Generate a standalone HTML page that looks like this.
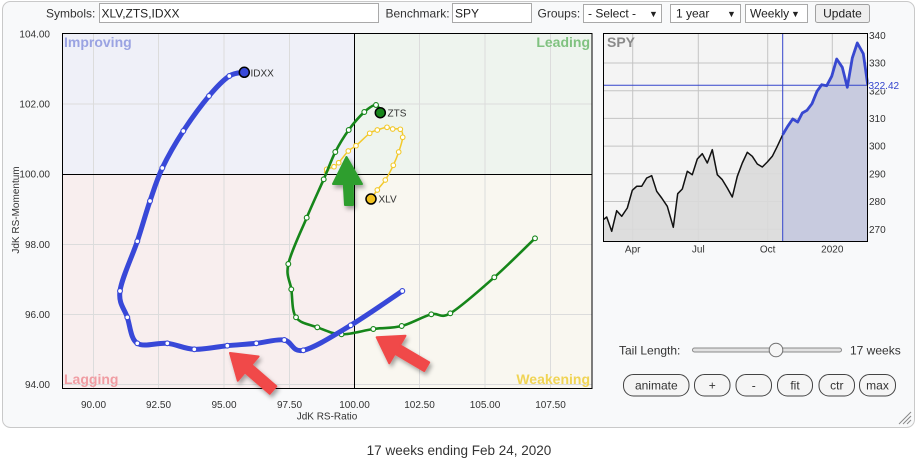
<!DOCTYPE html>
<html>
<head>
<meta charset="utf-8">
<style>
  html,body{margin:0;padding:0;background:#fff;}
  body{width:918px;height:464px;overflow:hidden;}
  svg{display:block;font-family:"Liberation Sans",Arial,sans-serif;}
</style>
</head>
<body>
<svg width="918" height="464" viewBox="0 0 918 464" xmlns="http://www.w3.org/2000/svg">
  <defs>
    <filter id="sh" x="-30%" y="-30%" width="160%" height="160%">
      <feDropShadow dx="2" dy="3" stdDeviation="2" flood-color="#000" flood-opacity="0.35"/>
    </filter>
  </defs>

  <!-- panel -->
  <rect x="2.5" y="1.5" width="912" height="426" rx="8" fill="#f8f9fa" stroke="#c9c9c9"/>

  <!-- toolbar -->
  <g font-size="12" fill="#333">
    <text x="46" y="17.5">Symbols:</text>
    <rect x="99.5" y="3.5" width="279" height="19" fill="#fff" stroke="#a9a9a9"/>
    <text x="101.5" y="17.5" fill="#222">XLV,ZTS,IDXX</text>
    <text x="385.5" y="17.5">Benchmark:</text>
    <rect x="452.5" y="3.5" width="79" height="19" fill="#fff" stroke="#a9a9a9"/>
    <text x="455" y="17.5" fill="#222">SPY</text>
    <text x="537.5" y="17.5">Groups:</text>
    <rect x="583.5" y="4.5" width="78" height="18" fill="#fff" stroke="#a9a9a9"/>
    <text x="588" y="17.5" fill="#222">- Select -</text>
    <text x="649" y="17" font-size="9" fill="#222">▼</text>
    <rect x="670.5" y="4.5" width="70" height="18" fill="#fff" stroke="#a9a9a9"/>
    <text x="676" y="17.5" fill="#222">1 year</text>
    <text x="727" y="17" font-size="9" fill="#222">▼</text>
    <rect x="745.5" y="4.5" width="62" height="18" fill="#fff" stroke="#a9a9a9"/>
    <text x="750" y="17.5" fill="#222">Weekly</text>
    <text x="791" y="17" font-size="9" fill="#222">▼</text>
    <rect x="815.5" y="4.5" width="54" height="18" rx="2" fill="#efefef" stroke="#a0a0a0"/>
    <text x="842.5" y="17.5" text-anchor="middle" fill="#222">Update</text>
  </g>

  <!-- RRG quadrants -->
  <rect x="62" y="33" width="292.5" height="141.5" fill="#eff0f8"/>
  <rect x="354.5" y="33" width="237.5" height="141.5" fill="#eef4ee"/>
  <rect x="62" y="174.5" width="292.5" height="214" fill="#f8eeee"/>
  <rect x="354.5" y="174.5" width="237.5" height="214" fill="#f9f7f0"/>

  <!-- grid -->
  <g stroke="#dcdcdc" stroke-width="1">
    <line x1="93.5" y1="33" x2="93.5" y2="388"/>
    <line x1="158.5" y1="33" x2="158.5" y2="388"/>
    <line x1="224" y1="33" x2="224" y2="388"/>
    <line x1="289.5" y1="33" x2="289.5" y2="388"/>
    <line x1="419.5" y1="33" x2="419.5" y2="388"/>
    <line x1="485" y1="33" x2="485" y2="388"/>
    <line x1="550.5" y1="33" x2="550.5" y2="388"/>
    <line x1="62" y1="104" x2="592" y2="104"/>
    <line x1="62" y1="244.5" x2="592" y2="244.5"/>
    <line x1="62" y1="314.5" x2="592" y2="314.5"/>
    <line x1="62" y1="384.5" x2="592" y2="384.5"/>
  </g>
  <line x1="354.5" y1="33" x2="354.5" y2="388" stroke="#000" stroke-width="1"/>
  <line x1="62" y1="174.5" x2="592" y2="174.5" stroke="#000" stroke-width="1"/>
  <rect x="62.5" y="33.5" width="529.5" height="355" fill="none" stroke="#000" stroke-width="1"/>

  <!-- quadrant labels -->
  <g font-size="14" font-weight="bold">
    <text x="64" y="47" fill="#9aa3e2">Improving</text>
    <text x="590" y="47" text-anchor="end" fill="#80c280">Leading</text>
    <text x="64" y="384" fill="#f09ca2">Lagging</text>
    <text x="590" y="384" text-anchor="end" fill="#f0d455">Weakening</text>
  </g>

  <!-- y tick labels -->
  <g font-size="10" fill="#333" text-anchor="end">
    <text x="50" y="37.5">104.00</text>
    <text x="50" y="107.5">102.00</text>
    <text x="50" y="177.5">100.00</text>
    <text x="50" y="248">98.00</text>
    <text x="50" y="318">96.00</text>
    <text x="50" y="388">94.00</text>
  </g>
  <text transform="translate(19,210) rotate(-90)" font-size="10" fill="#333" text-anchor="middle">JdK RS-Momentum</text>
  <!-- x tick labels -->
  <g font-size="10" fill="#333" text-anchor="middle">
    <text x="93.5" y="408">90.00</text>
    <text x="158.5" y="408">92.50</text>
    <text x="224" y="408">95.00</text>
    <text x="289.5" y="408">97.50</text>
    <text x="354.5" y="408">100.00</text>
    <text x="419.5" y="408">102.50</text>
    <text x="485" y="408">105.00</text>
    <text x="550.5" y="408">107.50</text>
    <text x="327" y="419.5">JdK RS-Ratio</text>
  </g>

  <!-- XLV tail -->
  <path id="xlv" d="M324.5,172.5 L326.7,169.3 L334,166.7 L338.7,162.7 L348.3,151 L356,145.7 L369.7,133.3 L377.3,130 L387,127.3 L392.7,129 L400.3,129.3 L402.7,137.3 L398.7,152 L393.3,165.3 L385.3,180 L377.3,190 L371,199" fill="none" stroke="#f2c92c" stroke-width="1.5" stroke-linejoin="round" stroke-linecap="round"/>
  <g fill="#fff" stroke="#f2c92c" stroke-width="1.1">
    <circle cx="326.7" cy="169.3" r="2.3"/><circle cx="334" cy="166.7" r="2.3"/><circle cx="338.7" cy="162.7" r="2.3"/>
    <circle cx="348.3" cy="151" r="2.3"/><circle cx="356" cy="145.7" r="2.3"/><circle cx="369.7" cy="133.3" r="2.3"/>
    <circle cx="377.3" cy="130" r="2.3"/><circle cx="387" cy="127.3" r="2.3"/><circle cx="392.7" cy="129" r="2.3"/>
    <circle cx="400.3" cy="129.3" r="2.3"/><circle cx="402.7" cy="137.3" r="2.3"/><circle cx="398.7" cy="152" r="2.3"/>
    <circle cx="393.3" cy="165.3" r="2.3"/><circle cx="385.3" cy="180" r="2.3"/><circle cx="377.3" cy="190" r="2.3"/>
  </g>

  <!-- ZTS tail -->
  <path id="zts" d="M535,238.3 L494.3,277.3 L450.3,313.3 L431.3,314.3 L401.7,326 L373.3,329 L341.5,334.3 L317.3,327.3 L296,317.3 L291.3,289.3 L288.3,264 L306.7,217.7 L323.7,179.3 L335.3,152 L348.7,130 L364.3,112 L376,105 L380.3,112.7" fill="none" stroke="#16861a" stroke-width="2.6" stroke-linejoin="round" stroke-linecap="round"/>
  <g fill="#fff" stroke="#16861a" stroke-width="1.1">
    <circle cx="535" cy="238.3" r="2.4"/><circle cx="494.3" cy="277.3" r="2.4"/><circle cx="450.3" cy="313.3" r="2.4"/>
    <circle cx="431.3" cy="314.3" r="2.4"/><circle cx="401.7" cy="326" r="2.4"/><circle cx="373.3" cy="329" r="2.4"/>
    <circle cx="341.5" cy="334.3" r="2.4"/><circle cx="317.3" cy="327.3" r="2.4"/><circle cx="296" cy="317.3" r="2.4"/>
    <circle cx="291.3" cy="289.3" r="2.4"/><circle cx="288.3" cy="264" r="2.4"/><circle cx="306.7" cy="217.7" r="2.4"/>
    <circle cx="323.7" cy="179.3" r="2.4"/><circle cx="335.3" cy="152" r="2.4"/><circle cx="348.7" cy="130" r="2.4"/>
    <circle cx="364.3" cy="112" r="2.4"/><circle cx="376" cy="105" r="2.4"/>
  </g>

  <!-- IDXX tail -->
  <path id="idxx" d="M402.3,291 L350.7,325.3 L303.3,350.3 L284.3,340 L256.3,343.3 L227.3,345.7 L194.3,349.3 L167.3,343.3 L137.3,343.3 L127.3,317.3 L120,291 L137.3,241.3 L150,201 L162.3,168 L183.3,131 L209,96 L229.3,76 L244.3,72.3" fill="none" stroke="#3848d8" stroke-width="5" stroke-linejoin="round" stroke-linecap="round"/>
  <g fill="#fff" stroke="#3848d8" stroke-width="1.1">
    <circle cx="402.3" cy="291" r="2.4"/><circle cx="350.7" cy="325.3" r="2.4"/><circle cx="303.3" cy="350.3" r="2.4"/>
    <circle cx="284.3" cy="340" r="2.4"/><circle cx="256.3" cy="343.3" r="2.4"/><circle cx="227.3" cy="345.7" r="2.4"/>
    <circle cx="194.3" cy="349.3" r="2.4"/><circle cx="167.3" cy="343.3" r="2.4"/><circle cx="137.3" cy="343.3" r="2.4"/>
    <circle cx="127.3" cy="317.3" r="2.4"/><circle cx="120" cy="291" r="2.4"/><circle cx="137.3" cy="241.3" r="2.4"/>
    <circle cx="150" cy="201" r="2.4"/><circle cx="162.3" cy="168" r="2.4"/><circle cx="183.3" cy="131" r="2.4"/>
    <circle cx="209" cy="96" r="2.4"/><circle cx="229.3" cy="76" r="2.4"/>
  </g>

  <!-- heads -->
  <circle cx="244.3" cy="72.3" r="5" fill="#3848d8" stroke="#000" stroke-width="1.5"/>
  <circle cx="380.3" cy="112.7" r="5" fill="#16861a" stroke="#000" stroke-width="1.5"/>
  <circle cx="371" cy="199" r="5" fill="#f2c21f" stroke="#000" stroke-width="1.5"/>
  <g font-size="10" fill="#333">
    <text x="250.5" y="76.5">IDXX</text>
    <text x="387.5" y="116.5">ZTS</text>
    <text x="378.5" y="202.5">XLV</text>
  </g>

  <!-- arrows -->
  <g filter="url(#sh)" stroke-linejoin="round" stroke-width="2">
    <polygon points="346.5,157 362,184 352.8,184 353,205 345,205 343.8,184 333,184" fill="#2e9e2e" stroke="#2e9e2e"/>
    <polygon points="230,353 258.6,356.5 251.5,364.8 276.3,386.2 269.7,393.8 244.9,372.4 237.8,380.7" fill="#f04848" stroke="#f04848"/>
    <polygon points="376.7,337.3 405.5,335.7 400,345.2 429.2,362.4 424.2,371 394.9,353.8 389.3,363.3" fill="#f04848" stroke="#f04848"/>
  </g>

  <!-- SPY chart -->
  <rect x="603.5" y="33.5" width="264" height="208" fill="#f4f4f4"/>
  <g stroke="#c4c4c4" stroke-width="1">
    <line x1="603.5" y1="63" x2="867.5" y2="63"/>
    <line x1="603.5" y1="90.7" x2="867.5" y2="90.7"/>
    <line x1="603.5" y1="118.4" x2="867.5" y2="118.4"/>
    <line x1="603.5" y1="146.1" x2="867.5" y2="146.1"/>
    <line x1="603.5" y1="173.8" x2="867.5" y2="173.8"/>
    <line x1="603.5" y1="201.5" x2="867.5" y2="201.5"/>
    <line x1="603.5" y1="229.2" x2="867.5" y2="229.2"/>
    <line x1="632.7" y1="33.5" x2="632.7" y2="241.5"/>
    <line x1="698.3" y1="33.5" x2="698.3" y2="241.5"/>
    <line x1="767.7" y1="33.5" x2="767.7" y2="241.5"/>
    <line x1="832.3" y1="33.5" x2="832.3" y2="241.5"/>
  </g>
  <polygon fill="#dadada" fill-opacity="0.9" points="603.5,241.5 603.3,219.7 606.7,217 611.7,231.3 616.7,210.7 621.7,216.3 627.3,208 632.3,190.3 636.7,186.3 641.7,186.3 646.7,178 651.7,175.7 656.7,191.3 661.7,198 667.3,206.3 673.3,227.3 677.7,193.7 682.3,189 687.3,171.3 692.3,174.7 697.3,159 702.3,153.7 707.3,163 712.3,149.7 717.3,174.7 722.3,179.7 727.3,188 732.3,197 737.3,176.3 742.3,163 747.3,152.3 752.3,156.3 757.3,164 762.3,167 767.3,162 772.3,156.3 777.3,146.3 782.7,134.7 782.7,241.5"/>
  <polygon fill="#c8cbdf" points="782.7,241.5 782.7,134.7 787.7,126.3 792.7,119 797.7,122 802.3,113 807,110.3 812,103.7 817,91.3 821.7,84.7 826.7,85.7 831.7,76.3 836.7,59 842.3,67.3 847.3,87.3 852.3,58 857.3,43 863.3,53.7 867.7,84.7 867.7,241.5"/>
  <polyline fill="none" stroke="#111" stroke-width="1.5" stroke-linejoin="round" points="603.3,219.7 606.7,217 611.7,231.3 616.7,210.7 621.7,216.3 627.3,208 632.3,190.3 636.7,186.3 641.7,186.3 646.7,178 651.7,175.7 656.7,191.3 661.7,198 667.3,206.3 673.3,227.3 677.7,193.7 682.3,189 687.3,171.3 692.3,174.7 697.3,159 702.3,153.7 707.3,163 712.3,149.7 717.3,174.7 722.3,179.7 727.3,188 732.3,197 737.3,176.3 742.3,163 747.3,152.3 752.3,156.3 757.3,164 762.3,167 767.3,162 772.3,156.3 777.3,146.3 782.7,134.7"/>
  <polyline fill="none" stroke="#3848d0" stroke-width="2.8" stroke-linejoin="round" points="782.7,134.7 787.7,126.3 792.7,119 797.7,122 802.3,113 807,110.3 812,103.7 817,91.3 821.7,84.7 826.7,85.7 831.7,76.3 836.7,59 842.3,67.3 847.3,87.3 852.3,58 857.3,43 863.3,53.7 867.7,84.7"/>
  <line x1="782.7" y1="33.5" x2="782.7" y2="241.5" stroke="#3344cc" stroke-width="1"/>
  <line x1="603.5" y1="85.3" x2="868" y2="85.3" stroke="#3344cc" stroke-width="1"/>
  <rect x="603.5" y="33.5" width="264" height="208" fill="none" stroke="#000" stroke-width="1"/>
  <text x="607" y="47" font-size="14" font-weight="bold" fill="#8a8a8a">SPY</text>
  <g font-size="10" fill="#333">
    <text x="869" y="39">340</text>
    <text x="869" y="66.5">330</text>
    <text x="869" y="94.5">320</text>
    <text x="869" y="122">310</text>
    <text x="869" y="149.7">300</text>
    <text x="869" y="177.4">290</text>
    <text x="869" y="205">280</text>
    <text x="869" y="232.8">270</text>
  </g>
  <rect x="868.5" y="80" width="36" height="9.5" fill="#f8f9fa"/>
  <text x="868.5" y="89" font-size="10" fill="#3344cc">322.42</text>
  <g font-size="10" fill="#333" text-anchor="middle">
    <text x="632.7" y="252.5">Apr</text>
    <text x="698.3" y="252.5">Jul</text>
    <text x="767.7" y="252.5">Oct</text>
    <text x="832.3" y="252.5">2020</text>
  </g>

  <!-- tail length -->
  <text x="619" y="354.3" font-size="12" fill="#333">Tail Length:</text>
  <rect x="692.5" y="348" width="149" height="4" rx="2" fill="#e2e2e2" stroke="#8a8a8a" stroke-width="1"/>
  <circle cx="776" cy="350" r="6.8" fill="#f6f6f6" stroke="#6f6f6f" stroke-width="1"/>
  <text x="850" y="354.3" font-size="12" fill="#333">17 weeks</text>

  <!-- buttons -->
  <g fill="#f5f5f5" stroke="#444" stroke-width="1">
    <rect x="623.5" y="374.5" width="65.5" height="21.5" rx="10"/>
    <rect x="694.5" y="374.5" width="35.5" height="21.5" rx="10"/>
    <rect x="736" y="374.5" width="35.5" height="21.5" rx="10"/>
    <rect x="777.5" y="374.5" width="35" height="21.5" rx="10"/>
    <rect x="819" y="374.5" width="35.5" height="21.5" rx="10"/>
    <rect x="859.5" y="374.5" width="36" height="21.5" rx="10"/>
  </g>
  <g font-size="12" fill="#333" text-anchor="middle">
    <text x="656.3" y="389.5">animate</text>
    <text x="712.3" y="389.5">+</text>
    <text x="753.8" y="389.5">-</text>
    <text x="795" y="389.5">fit</text>
    <text x="836.8" y="389.5">ctr</text>
    <text x="877.5" y="389.5">max</text>
  </g>

  <!-- resize grip -->
  <g stroke="#888" stroke-width="1">
    <line x1="899" y1="424" x2="911" y2="412"/>
    <line x1="903" y1="424" x2="911" y2="416"/>
    <line x1="907" y1="424" x2="911" y2="420"/>
  </g>

  <!-- caption -->
  <text x="459" y="455" font-size="13.5" fill="#333" text-anchor="middle">17 weeks ending Feb 24, 2020</text>
</svg>
<script>
(function(){
  function smooth(id){
    var el=document.getElementById(id); if(!el) return;
    var n=el.getAttribute('d').match(/-?[\d.]+/g).map(Number);
    var p=[]; for(var i=0;i<n.length;i+=2) p.push([n[i],n[i+1]]);
    var d='M'+p[0][0]+','+p[0][1];
    for(var i=0;i<p.length-1;i++){
      var p0=p[i-1]||p[i], p1=p[i], p2=p[i+1], p3=p[i+2]||p2;
      var c1x=p1[0]+(p2[0]-p0[0])/6, c1y=p1[1]+(p2[1]-p0[1])/6;
      var c2x=p2[0]-(p3[0]-p1[0])/6, c2y=p2[1]-(p3[1]-p1[1])/6;
      d+=' C'+c1x.toFixed(1)+','+c1y.toFixed(1)+' '+c2x.toFixed(1)+','+c2y.toFixed(1)+' '+p2[0]+','+p2[1];
    }
    el.setAttribute('d',d);
  }
  smooth('idxx'); smooth('zts'); smooth('xlv');
})();
</script>
</body>
</html>
